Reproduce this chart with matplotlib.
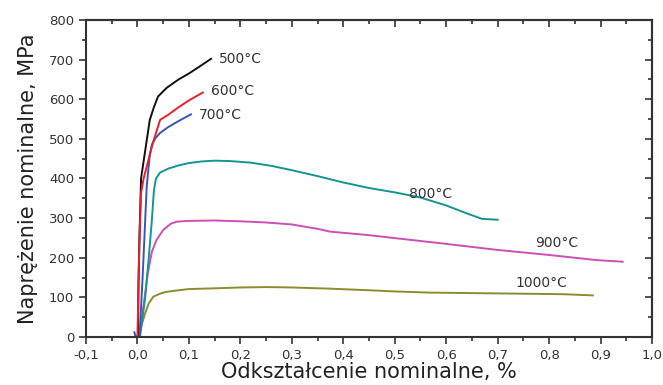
import matplotlib
matplotlib.use("Agg")
import matplotlib.pyplot as plt
from matplotlib.ticker import MultipleLocator, FuncFormatter

# ---- data ----
x500 = [0.001, 0.002, 0.004, 0.007, 0.015, 0.024, 0.032, 0.040, 0.057, 0.08, 0.10, 0.12, 0.143]
y500 = [0, 130, 260, 400, 470, 548, 580, 607, 629, 650, 665, 682, 702]

x600 = [0.0, 0.002, 0.004, 0.007, 0.012, 0.018, 0.030, 0.044, 0.060, 0.080, 0.100, 0.127]
y600 = [0, 140, 250, 364, 400, 430, 490, 548, 561, 580, 597, 617]

x700 = [-0.006, -0.004, 0.004, 0.010, 0.018, 0.024, 0.028, 0.035, 0.044, 0.060, 0.080, 0.104]
y700 = [12, 2, 0, 150, 380, 460, 485, 502, 515, 530, 545, 562]

x800 = [0.005, 0.015, 0.022, 0.028, 0.032, 0.036, 0.044, 0.06, 0.08, 0.10, 0.125, 0.15, 0.18,
        0.22, 0.26, 0.30, 0.35, 0.40, 0.45, 0.50, 0.55, 0.60, 0.64, 0.67, 0.70]
y800 = [0, 100, 200, 295, 370, 400, 415, 425, 433, 439, 443, 445, 444,
        440, 432, 421, 406, 390, 376, 365, 352, 332, 312, 298, 296]

x900 = [0.003, 0.012, 0.020, 0.028, 0.037, 0.050, 0.065, 0.076, 0.10, 0.15, 0.20, 0.25, 0.30,
        0.35, 0.374, 0.45, 0.504, 0.60, 0.698, 0.80, 0.893, 0.943]
y900 = [0, 80, 160, 215, 245, 270, 286, 291, 293, 294, 292, 289, 284,
        273, 266, 257, 249, 235, 220, 207, 194, 190]

x1000 = [0.0, 0.008, 0.015, 0.022, 0.031, 0.045, 0.057, 0.08, 0.10, 0.154, 0.20, 0.251, 0.30,
         0.374, 0.45, 0.50, 0.569, 0.70, 0.828, 0.885]
y1000 = [0, 30, 60, 85, 102, 110, 114, 118, 121, 123, 125, 126, 125,
         122, 118, 115, 112, 110, 108, 105]

labels = ["500°C", "600°C", "700°C", "800°C", "900°C", "1000°C"]
label_pos = [(0.158, 702), (0.142, 622), (0.120, 561), (0.528, 360), (0.773, 237), (0.734, 136)]

series = [
    (x1000, y1000, "#8c8c2e"),
    (x900, y900, "#cc4fb4"),
    (x800, y800, "#13968f"),
    (x700, y700, "#3a55b8"),
    (x500, y500, "#111111"),
    (x600, y600, "#e8202a"),
]

fig = plt.figure(figsize=(6.63, 3.85), dpi=100)
ax = fig.add_axes([86 / 663, 1 - 337 / 385, (652 - 86) / 663, (337 - 20) / 385])

for xs, ys, c in series:
    ax.plot(xs, ys, color=c, lw=1.4, solid_joinstyle="round")

for txt, (lx, ly) in zip(labels, label_pos):
    ax.text(lx, ly, txt, fontsize=10, color="#333333", va="center", ha="left",
            family="DejaVu Sans")

ax.set_xlim(-0.1, 1.0)
ax.set_ylim(0, 800)
ax.xaxis.set_major_locator(MultipleLocator(0.1))
ax.xaxis.set_minor_locator(MultipleLocator(0.05))
ax.yaxis.set_major_locator(MultipleLocator(100))
ax.yaxis.set_minor_locator(MultipleLocator(50))
ax.xaxis.set_major_formatter(FuncFormatter(lambda v, p: f"{v:.1f}".replace(".", ",").replace("-0,0", "0,0")))

tc = "#333333"
ax.tick_params(which="both", direction="out", color=tc, width=1.2, labelsize=9.5,
               labelcolor="#333333")
ax.tick_params(which="major", length=5)
ax.tick_params(which="minor", length=3)
for s in ax.spines.values():
    s.set_linewidth(1.5)
    s.set_color(tc)

top = ax.secondary_xaxis("top")
top.xaxis.set_major_locator(MultipleLocator(0.1))
top.xaxis.set_minor_locator(MultipleLocator(0.05))
top.tick_params(which="both", direction="in", color=tc, width=1.2, labeltop=False)
top.tick_params(which="major", length=5)
top.tick_params(which="minor", length=3)
top.spines["top"].set_linewidth(1.5)
top.spines["top"].set_color(tc)

right = ax.secondary_yaxis("right")
right.yaxis.set_major_locator(MultipleLocator(100))
right.yaxis.set_minor_locator(MultipleLocator(50))
right.tick_params(which="both", direction="in", color=tc, width=1.2, labelright=False)
right.tick_params(which="major", length=5)
right.tick_params(which="minor", length=3)
right.spines["right"].set_linewidth(1.5)
right.spines["right"].set_color(tc)

ax.set_xlabel("Odkształcenie nominalne, %", fontsize=15, color="#222222", va="top")
ax.xaxis.set_label_coords(0.5, -0.078)
ax.set_ylabel("Naprężenie nominalne, MPa", fontsize=15, color="#222222")
ax.yaxis.set_label_coords(-0.085, 0.5)

fig.savefig("out.png", dpi=100)
